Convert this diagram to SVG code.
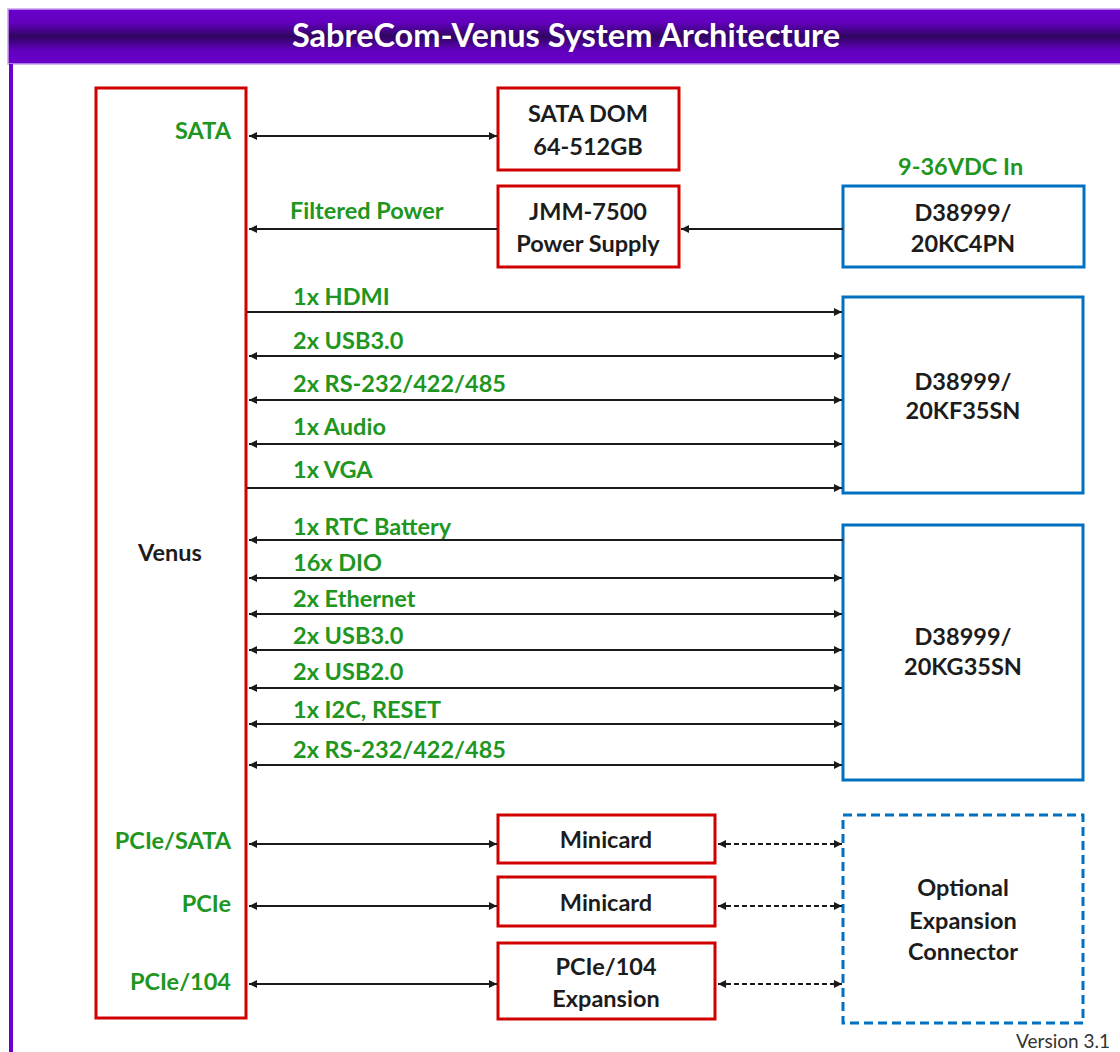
<svg xmlns="http://www.w3.org/2000/svg" width="1120" height="1052" viewBox="0 0 1120 1052">
<defs>
<linearGradient id="tg" x1="0" y1="0" x2="0" y2="1">
<stop offset="0" stop-color="#6a00cc"/>
<stop offset="0.25" stop-color="#6200bd"/>
<stop offset="0.5" stop-color="#2f0560"/>
<stop offset="0.75" stop-color="#6200bd"/>
<stop offset="1" stop-color="#6a00cc"/>
</linearGradient>
<marker id="ah" viewBox="0 0 10 10" refX="10" refY="5" markerWidth="9" markerHeight="8" markerUnits="userSpaceOnUse" orient="auto-start-reverse">
<path d="M0,0 L10,5 L0,10 z" fill="#1a1a1a"/>
</marker>
<style>
.red{fill:#fff;stroke:#d00000;stroke-width:3}
.blue{fill:#fff;stroke:#0070c0;stroke-width:3}
.dash{fill:#fff;stroke:#0070c0;stroke-width:3;stroke-dasharray:9,5}
.bt{font-family:Lato,"Open Sans",sans-serif;font-weight:bold;font-size:23.5px;fill:#1c1c1c;text-anchor:middle}
.gl{font-family:Lato,"Open Sans",sans-serif;font-weight:bold;font-size:23.5px;fill:#1e9620}
.gr{text-anchor:end}
.ln{stroke:#1a1a1a;stroke-width:2;fill:none}
.both{marker-start:url(#ah);marker-end:url(#ah)}
.end{marker-end:url(#ah)}
.dl{stroke-dasharray:5,3}
</style>
</defs>
<rect width="1120" height="1052" fill="#fff"/>
<g id="frame">
<rect x="8" y="9" width="1114" height="55" fill="url(#tg)" stroke="#c9a3ef" stroke-width="1.5"/>
<rect x="9" y="64" width="4" height="988" fill="#6a00cc"/>
<text x="566" y="47" font-family="Lato,'Open Sans',sans-serif" font-weight="bold" font-size="32.5" fill="#fff" text-anchor="middle">SabreCom-Venus System Architecture</text>
</g>
<g id="venus">
<rect class="red" x="96" y="88" width="150" height="930"/>
<text class="bt" x="170" y="561">Venus</text>
</g>
<g id="sata-dom">
<rect class="red" x="498" y="88" width="181" height="82"/>
<text class="bt" x="588" y="122">SATA DOM</text>
<text class="bt" x="588" y="155">64-512GB</text>
</g>
<g id="jmm-7500">
<rect class="red" x="498" y="186" width="181" height="81"/>
<text class="bt" x="588" y="220">JMM-7500</text>
<text class="bt" x="588" y="252">Power Supply</text>
</g>
<g id="d38999-20kc4pn">
<rect class="blue" x="843" y="186" width="241" height="81"/>
<text class="bt" x="963" y="221">D38999/</text>
<text class="bt" x="963" y="252">20KC4PN</text>
</g>
<g id="d38999-20kf35sn">
<rect class="blue" x="843" y="297" width="240" height="196"/>
<text class="bt" x="963" y="390">D38999/</text>
<text class="bt" x="963" y="419">20KF35SN</text>
</g>
<g id="d38999-20kg35sn">
<rect class="blue" x="843" y="525" width="240" height="255"/>
<text class="bt" x="963" y="645">D38999/</text>
<text class="bt" x="963" y="675">20KG35SN</text>
</g>
<g id="minicard-1">
<rect class="red" x="498" y="815" width="217" height="48"/>
<text class="bt" x="606" y="848">Minicard</text>
</g>
<g id="minicard-2">
<rect class="red" x="498" y="877" width="217" height="49"/>
<text class="bt" x="606" y="911">Minicard</text>
</g>
<g id="pcie104">
<rect class="red" x="498" y="943" width="217" height="76"/>
<text class="bt" x="606" y="975">PCIe/104</text>
<text class="bt" x="606" y="1007">Expansion</text>
</g>
<g id="optional-expansion">
<rect class="dash" x="843" y="815" width="240" height="208"/>
<text class="bt" x="963" y="896">Optional</text>
<text class="bt" x="963" y="929">Expansion</text>
<text class="bt" x="963" y="960">Connector</text>
</g>
<g id="connectors">
<line class="ln both" x1="249" y1="136" x2="497" y2="136"/>
<line class="ln end" x1="497" y1="229" x2="249" y2="229"/>
<line class="ln end" x1="843" y1="229" x2="681" y2="229"/>
<line class="ln end" x1="247" y1="312" x2="842" y2="312"/>
<line class="ln both" x1="249" y1="356" x2="842" y2="356"/>
<line class="ln both" x1="249" y1="400" x2="842" y2="400"/>
<line class="ln both" x1="249" y1="444" x2="842" y2="444"/>
<line class="ln end" x1="247" y1="488" x2="842" y2="488"/>
<line class="ln end" x1="843" y1="540" x2="249" y2="540"/>
<line class="ln both" x1="249" y1="578" x2="842" y2="578"/>
<line class="ln both" x1="249" y1="614" x2="842" y2="614"/>
<line class="ln both" x1="249" y1="650" x2="842" y2="650"/>
<line class="ln both" x1="249" y1="688" x2="842" y2="688"/>
<line class="ln both" x1="249" y1="724" x2="842" y2="724"/>
<line class="ln both" x1="249" y1="765" x2="842" y2="765"/>
<line class="ln both" x1="249" y1="844" x2="497" y2="844"/>
<line class="ln both" x1="249" y1="906" x2="497" y2="906"/>
<line class="ln both" x1="249" y1="984" x2="497" y2="984"/>
<line class="ln both dl" x1="718" y1="844" x2="842" y2="844"/>
<line class="ln both dl" x1="718" y1="906" x2="842" y2="906"/>
<line class="ln both dl" x1="718" y1="984" x2="842" y2="984"/>
</g>
<g id="labels">
<text class="gl gr" x="231" y="139">SATA</text>
<text class="gl" x="290" y="219">Filtered Power</text>
<text class="gl" x="898" y="175">9-36VDC In</text>
<text class="gl" x="293" y="305">1x HDMI</text>
<text class="gl" x="293" y="349">2x USB3.0</text>
<text class="gl" x="293" y="392">2x RS-232/422/485</text>
<text class="gl" x="293" y="435">1x Audio</text>
<text class="gl" x="293" y="478">1x VGA</text>
<text class="gl" x="293" y="535">1x RTC Battery</text>
<text class="gl" x="293" y="571">16x DIO</text>
<text class="gl" x="293" y="607">2x Ethernet</text>
<text class="gl" x="293" y="644">2x USB3.0</text>
<text class="gl" x="293" y="680">2x USB2.0</text>
<text class="gl" x="293" y="718">1x I2C, RESET</text>
<text class="gl" x="293" y="758">2x RS-232/422/485</text>
<text class="gl gr" x="231" y="849">PCIe/SATA</text>
<text class="gl gr" x="231" y="912">PCIe</text>
<text class="gl gr" x="231" y="990">PCIe/104</text>
</g>
<text x="1110" y="1048" font-family="Lato,'Open Sans',sans-serif" font-size="19" fill="#333" text-anchor="end">Version 3.1</text>
</svg>
